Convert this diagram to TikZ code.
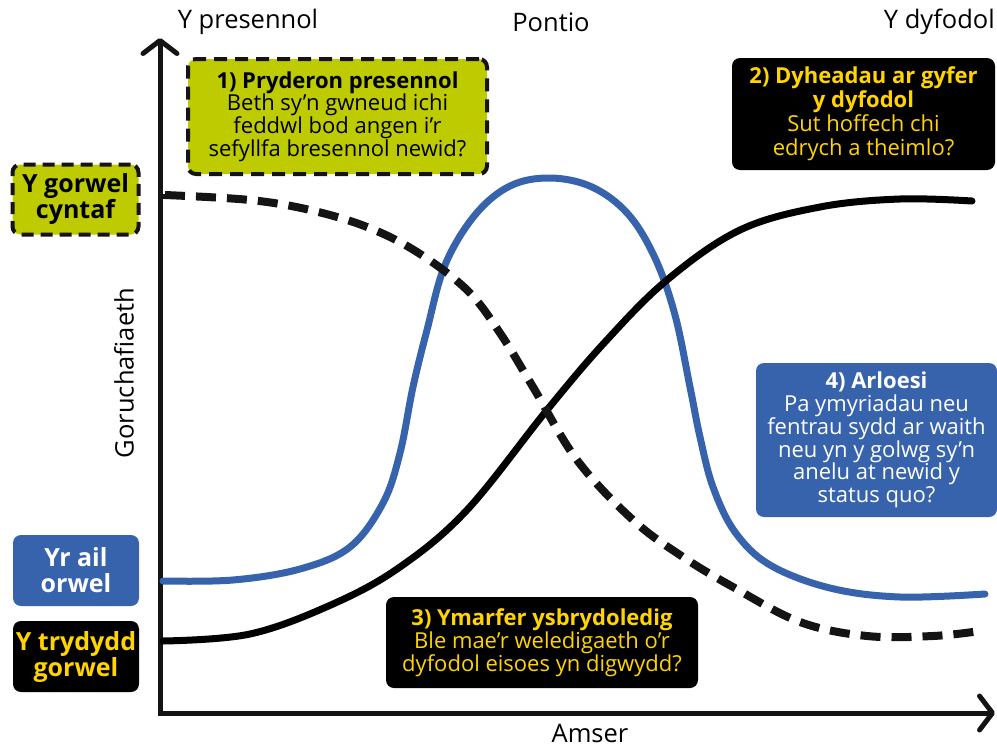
\documentclass[tikz,border=0pt]{standalone}
\usepackage{fontspec}
\setmainfont{Open Sans}
\usepackage{tikz}
\usetikzlibrary{arrows.meta}
\usetikzlibrary{positioning}
\definecolor{hgreen}{HTML}{BDCB00}
\definecolor{hblue}{HTML}{3763AC}
\definecolor{hyellow}{HTML}{FFD400}

\begin{document}
\begin{tikzpicture}[x=1pt,y=-1pt]
    \useasboundingbox (0,0) rectangle (997,747);

        % axes
        \coordinate (O) at (160,713);
        \coordinate (Ytop) at (160,38);
        \coordinate (Xend) at (995,713);
        \begin{scope}[line width=5pt, color=black!92,
                  >={Straight Barb[length=13pt,width=34pt,round]}]
        \draw[->] ([yshift=2.5pt]O) -- (Ytop);
        \draw[->] ([xshift=-2.5pt]O) -- (Xend);
        \draw (O |- 0,196) -- ++(12,0);
        \end{scope}

        % axis texts
        \begin{scope}[every node/.style={font=\fontsize{25.5}{30}\selectfont, inner sep=0pt}]
        \node (now) at (248,22) {Y presennol};
        \node (bridge) at (551,22) {Pontio};
        \node[anchor=east] (future) at (995,22) {Y dyfodol};
        \node (time) at (590,733) {Amser};
        \node[rotate=90] (power) at (124,373) {Goruchafiaeth};
        \end{scope}

        % curves
        \begin{scope}[line cap=round, line width=7pt]
        \draw[hblue] plot[smooth, tension=0.6] coordinates {
            (163,581) (233,580) (300,569) (350,547) (383,503) (400,453)
            (413,387) (427,330) (445,265) (475,215) (510,186) (550,178)
            (592,187) (628,214) (655,258) (675,315) (690,387) (700,437)
            (713,487) (735,532) (770,565) (830,588) (900,597) (985,594)};
        \draw[black] plot[smooth, tension=0.6] coordinates {
            (163,641) (250,634) (333,604) (400,567) (467,510) (547,410)
            (605,342) (667,280) (740,230) (820,207) (900,199) (972,201)};
        \draw[black!92, line cap=butt, line width=8pt,
              dash pattern=on 20pt off 11pt] plot[smooth, tension=0.6] coordinates {
            (165,195) (250,200) (310,210) (367,227) (417,252) (467,290)
            (500,333) (533,387) (577,460) (633,520) (683,557) (733,587)
            (800,622) (867,636) (933,636) (980,631)};
        \end{scope}

        % boxes, add or remove here
        \begin{scope}[every node/.style={rounded corners=8pt, align=center,
                  inner sep=0pt, font=\fontsize{22}{22.8}\selectfont}]
        \node[fill=hgreen, draw=black!92, line width=4pt, dash pattern=on 13pt off 8pt,
              minimum width=299pt, minimum height=115pt] (worry) at (337.5,116.5)
              {\textbf{1) Pryderon presennol}\\Beth sy'n gwneud ichi\\feddwl bod angen i'r\\sefyllfa bresennol newid?};
        \node[fill=black, text=hyellow, minimum width=263pt, minimum height=112pt,
              font=\fontsize{22}{24}\selectfont] (hope) at (863.5,114)
              {\textbf{2) Dyheadau ar gyfer}\\\textbf{y dyfodol}\\Sut hoffech chi\\edrych a theimlo?};
        \node[fill=hblue, text=white, minimum width=241pt, minimum height=154pt] (innov) at (876.5,440)
              {\textbf{4) Arloesi}\\Pa ymyriadau neu\\fentrau sydd ar waith\\neu yn y golwg sy'n\\anelu at newid y\\status quo?};
        \node[fill=black, text=hyellow, minimum width=312pt, minimum height=91pt] (practice) at (542,642.5)
              {\textbf{3) Ymarfer ysbrydoledig}\\Ble mae’r weledigaeth o’r\\dyfodol eisoes yn digwydd?};
        \end{scope}

        % horizons
        \begin{scope}[every node/.style={rounded corners=8pt, align=center, inner sep=0pt,
                  minimum width=126pt, minimum height=71pt,
                  font=\bfseries\fontsize{25}{26}\selectfont}]
        \node[fill=hgreen, draw=black!92, line width=4pt, dash pattern=on 12pt off 7pt,
              minimum height=70pt] (first) at (75.5,199.5) {Y gorwel\\cyntaf};
        \node[fill=hblue, text=white] (second) at (76,570.5) {Yr ail\\orwel};
        \node[fill=black, text=hyellow] (third) at (76,656.5) {Y trydydd\\gorwel};
        \end{scope}

\end{tikzpicture}
\end{document}
